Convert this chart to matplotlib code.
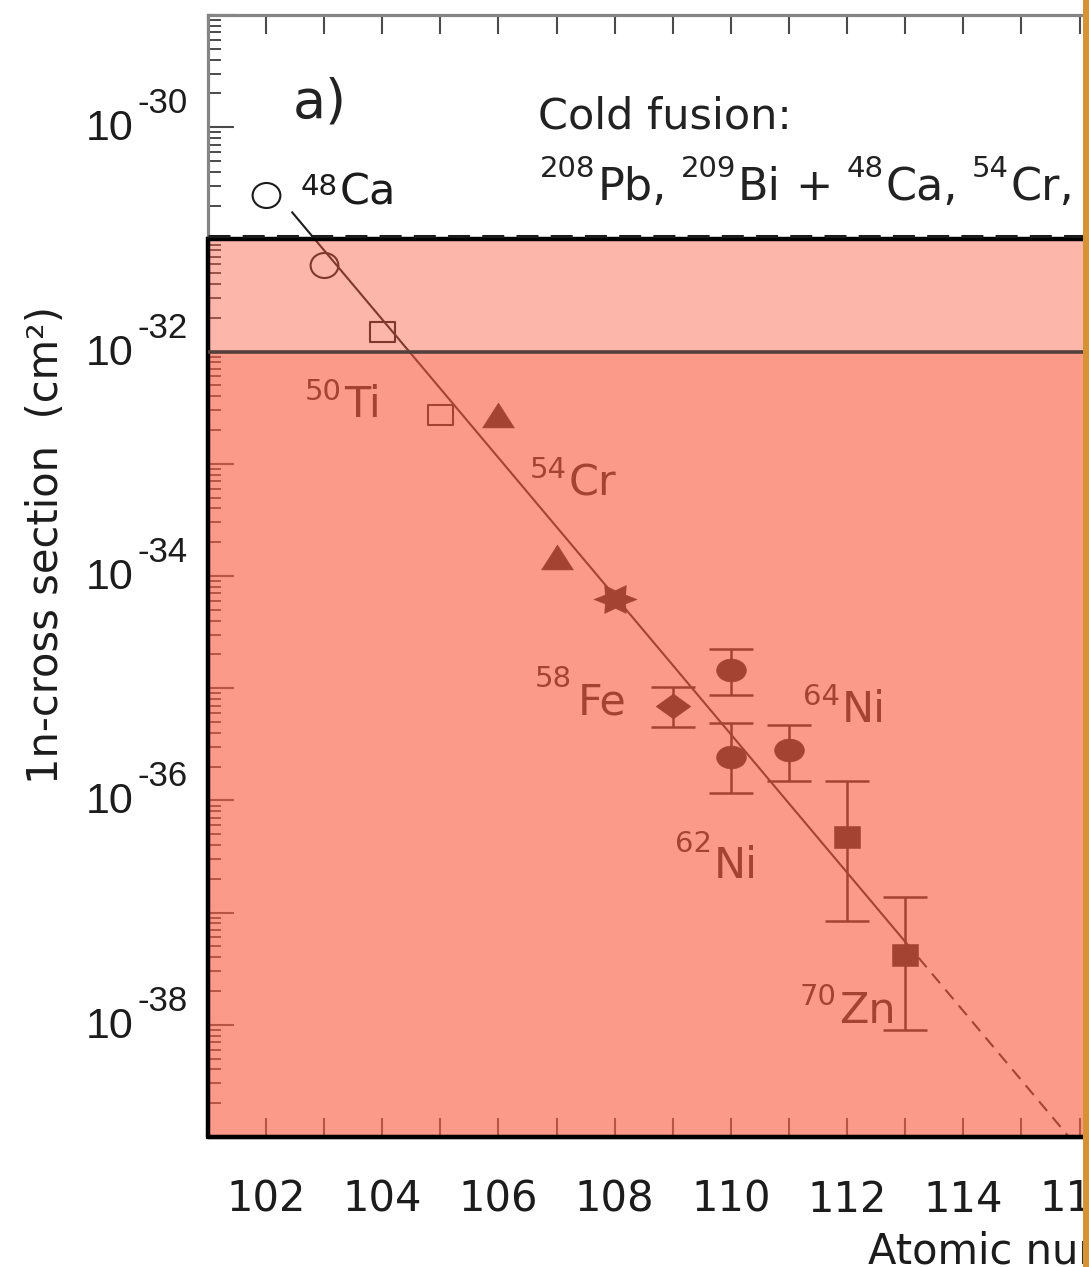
import matplotlib
matplotlib.use('Agg')
import numpy as np
import matplotlib.pyplot as plt
import matplotlib.transforms as mtransforms
from matplotlib.path import Path
from matplotlib.patches import Rectangle
from matplotlib.ticker import MultipleLocator, LogLocator, NullFormatter, FuncFormatter

# 1n evaporation cross sections (cm^2) against Z of the compound nucleus
ca_z = [102, 103]
ca_sigma = [2.5e-31, 5.9e-32]
ti_z = [104, 105]
ti_sigma = [1.48e-32, 2.7e-33]
cr_z = [106, 107]
cr_sigma = [2.7e-33, 1.48e-34]
fe_pb_z = [108]
fe_pb_sigma = [6.3e-35]
fe_bi_z = [109]
fe_bi_sigma = [6.9e-36]
fe_bi_lo = [4.5e-36]
fe_bi_hi = [1.02e-35]
ni_z = [110, 110, 111]
ni_sigma = [1.45e-35, 2.45e-36, 2.8e-36]
ni_lo = [8.7e-36, 1.17e-36, 1.5e-36]
ni_hi = [2.24e-35, 4.9e-36, 4.7e-36]
zn_z = [112, 113]
zn_sigma = [4.7e-37, 4.2e-38]
zn_lo = [8.5e-38, 8.9e-39]
zn_hi = [1.5e-36, 1.38e-37]

# systematics: fitted trend and its extrapolation
fit_z = [102.45, 113.0]
fit_sigma = [1.74e-31, 5.5e-38]
extrap_z = [113.0, 116.5]
extrap_sigma = [5.5e-38, 3.8e-40]

# sensitivity bands
band_top = 1e-31
band_mid = 1e-32

label_decades = [-30, -32, -34, -36, -38]

W, H = 1089, 1267
INK = '#1b1b1b'
SHADE = (0.984, 0.365, 0.263)

plt.rcParams['font.family'] = 'DejaVu Sans'

fig = plt.figure(figsize=(W / 100, H / 100), dpi=100)
ax = fig.add_axes([208 / W, 1 - 1137 / H, 19 * 58.1 / W, 1122 / H])
ax.set_yscale('log')
ax.set_xlim(101, 120)
ax.set_ylim(1e-39, 1e-29)
renderer = fig.canvas.get_renderer()


def squashed(verts, sy):
    p = Path(verts, closed=True)
    return p.transformed(mtransforms.Affine2D().scale(1.0, sy))


circle_open = Path.unit_circle().transformed(mtransforms.Affine2D().scale(1.0, 0.9))
circle_full = Path.unit_circle().transformed(mtransforms.Affine2D().scale(1.0, 0.77))
square_open = squashed([(-1, -1), (1, -1), (1, 1), (-1, 1), (-1, -1)], 0.82)
square_full = squashed([(-1, -1), (1, -1), (1, 1), (-1, 1), (-1, -1)], 0.88)
triangle = squashed([(0, 1), (-1, -1), (1, -1), (0, 1)], 0.78)
diamond = squashed([(-1, 0), (0, 1), (1, 0), (0, -1), (-1, 0)], 0.72)
star6 = Path.unit_regular_star(6, 0.55).transformed(
    mtransforms.Affine2D().rotate_deg(30).scale(1.0, 0.75))

# trend line
ax.plot(fit_z, fit_sigma, color=INK, lw=1.5, zorder=3)
ax.plot(extrap_z, extrap_sigma, color=INK, lw=1.5, ls=(0, (6, 4)), zorder=3)

# error bars
for z, s, lo, hi in [(fe_bi_z, fe_bi_sigma, fe_bi_lo, fe_bi_hi),
                     (ni_z, ni_sigma, ni_lo, ni_hi),
                     (zn_z, zn_sigma, zn_lo, zn_hi)]:
    yerr = [np.subtract(s, lo), np.subtract(hi, s)]
    ax.errorbar(z, s, yerr=yerr, fmt='none', ecolor=INK, elinewidth=1.8,
                capsize=16, capthick=1.8, zorder=3)

# markers
ax.plot(ca_z, ca_sigma, ls='none', marker=circle_open, ms=20, mfc='none',
        mec=INK, mew=1.5, zorder=4)
ax.plot(ti_z, ti_sigma, ls='none', marker=square_open, ms=18, mfc='none',
        mec=INK, mew=1.5, zorder=4)
ax.plot(cr_z, cr_sigma, ls='none', marker=triangle, ms=23, color=INK,
        mew=0.4, zorder=4)
ax.plot(fe_pb_z, fe_pb_sigma, ls='none', marker=star6, ms=31, color=INK,
        mew=0.4, zorder=4)
ax.plot(fe_bi_z, fe_bi_sigma, ls='none', marker=diamond, ms=25, color=INK,
        mew=0.4, zorder=4)
ax.plot(ni_z, ni_sigma, ls='none', marker=circle_full, ms=21.5, color=INK,
        mew=0.4, zorder=4)
ax.plot(zn_z, zn_sigma, ls='none', marker=square_full, ms=18.5, color=INK,
        mew=0.4, zorder=4)


def draw_runs(x, y, runs, size=31, sup=21, color=INK):
    """Write text pieces one after another; a piece is (text, is_sup, rise_px, gap_px)."""
    dx = 0.0
    for text, is_sup, rise, gap in runs:
        tr = mtransforms.offset_copy(ax.transData, fig=fig, x=dx, y=rise, units='dots')
        t = ax.text(x, y, text, fontsize=sup if is_sup else size, color=color,
                    transform=tr, ha='left', va='baseline', zorder=4)
        dx += t.get_window_extent(renderer).width + gap


# isotope labels
draw_runs(102.60, 2.03e-31, [('48', True, 10, 2), ('Ca', False, 0, 0)])
draw_runs(102.67, 2.61e-33, [('50', True, 17, 2), ('Ti', False, 0, 0)])
draw_runs(106.54, 5.27e-34, [('54', True, 17, 2), ('Cr', False, 0, 0)])
draw_runs(106.63, 5.77e-36, [('58', True, 28, 6), ('Fe', False, 0, 0)])
draw_runs(111.24, 5.0e-36, [('64', True, 17, 2), ('Ni', False, 0, 0)])
draw_runs(109.04, 2.03e-37, [('62', True, 26, 2), ('Ni', False, 0, 0)])
draw_runs(111.19, 1.04e-38, [('70', True, 18, 2), ('Zn', False, 0, 0)])

# panel header
ax.text(102.46, 1.23e-30, 'a)', fontsize=39, color='#222222', va='baseline')
ax.text(106.68, 9.8e-31, 'Cold fusion:', fontsize=31, color='#222222', va='baseline')
draw_runs(106.71, 2.24e-31,
          [('208', True, 23, 2), ('Pb,', False, 0, 14),
           ('209', True, 23, 2), ('Bi', False, 0, 14),
           ('+', False, 0, 14),
           ('48', True, 23, 2), ('Ca,', False, 0, 14),
           ('54', True, 23, 2), ('Cr,', False, 0, 0)],
          size=32, sup=21, color='#222222')

# shaded bands over the plot
ax.axhspan(1e-39, band_mid, color=SHADE, alpha=0.62, lw=0, zorder=6)
ax.axhspan(band_mid, band_top, color=SHADE, alpha=0.45, lw=0, zorder=6)
blend = mtransforms.blended_transform_factory(ax.transAxes, ax.transData)
ax.add_patch(Rectangle((0, 1e-39), 1, band_top - 1e-39, transform=blend,
                       fill=False, ec='black', lw=3.2, clip_on=False, zorder=8))
ax.plot([0, 1], [band_top, band_top], color=INK, lw=2.2, ls=(0, (7.2, 4)),
        transform=mtransforms.offset_copy(blend, fig=fig, y=3, units='dots'),
        clip_on=False, zorder=8)
ax.axhline(band_mid, color='#54403b', lw=2.6, zorder=8)

# axes styling
for side in ['top', 'left']:
    ax.spines[side].set_color('#858585')
    ax.spines[side].set_linewidth(2.3)
ax.spines['bottom'].set_color('black')
ax.spines['bottom'].set_linewidth(3)
ax.spines['right'].set_visible(False)

ax.xaxis.set_major_locator(MultipleLocator(1))
ax.xaxis.set_major_formatter(FuncFormatter(
    lambda v, p: '%d' % round(v) if int(round(v)) % 2 == 0 else ''))
ax.tick_params(axis='x', which='major', direction='in', top=True, bottom=True,
               length=14, width=1.5, color='#4a4a4a', labelsize=30, pad=30,
               labelcolor='#1c1c1c')
ax.tick_params(axis='x', which='minor', top=False, bottom=False)

ax.yaxis.set_major_locator(LogLocator(base=10, numticks=20))
ax.yaxis.set_minor_locator(LogLocator(base=10, subs=range(2, 10), numticks=20))
ax.yaxis.set_major_formatter(NullFormatter())
ax.yaxis.set_minor_formatter(NullFormatter())
ax.tick_params(axis='y', which='major', direction='in', length=19, width=1.5,
               color='#4a4a4a', right=False)
ax.tick_params(axis='y', which='minor', direction='in', length=9.5, width=1.4,
               color='#4a4a4a', right=False)

# y tick labels as 10 with a raised exponent
for d in label_decades:
    sup_tr = mtransforms.offset_copy(blend, fig=fig, x=-20, y=14, units='dots')
    st = ax.text(0, 10.0 ** d, '-%d' % -d, transform=sup_tr, ha='right',
                 va='baseline', fontsize=25, family='Liberation Sans', color='#1c1c1c')
    w = st.get_window_extent(renderer).width
    base_tr = mtransforms.offset_copy(blend, fig=fig, x=-24 - w, y=-13, units='dots')
    ax.text(0, 10.0 ** d, '10', transform=base_tr, ha='right', va='baseline',
            fontsize=31, family='Liberation Sans', color='#1c1c1c')

fig.text(46 / W, 1 - 545 / H, '1n-cross section  (cm²)', rotation=90,
         ha='center', va='center', fontsize=30, color='#1c1c1c')
fig.text(868 / W, 1 - 1263 / H, 'Atomic number Z', ha='left', va='baseline',
         fontsize=30, color='#1c1c1c')

# frame edge on the right
fig.add_artist(Rectangle((1083 / W, 0), 6 / W, 1, transform=fig.transFigure,
                         fc='#d69233', ec='none', zorder=50))

fig.savefig('out.png', dpi=100)
